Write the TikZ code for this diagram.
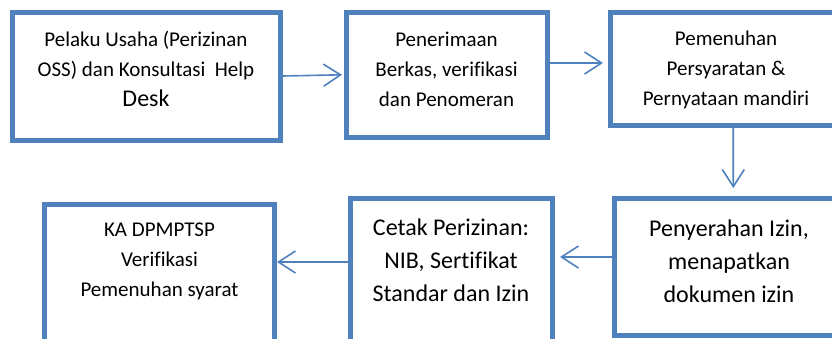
\documentclass[tikz,border=0pt]{standalone}
\usepackage{fontspec}
\setmainfont[Ligatures=NoCommon]{Carlito}
\usetikzlibrary{arrows.meta,positioning}
\definecolor{ossblue}{RGB}{79,129,189}

\begin{document}
\begin{tikzpicture}[x=1pt,y=-1pt,
  box/.style={draw=ossblue,line width=5pt,inner sep=0pt},
  txt/.style={align=center,inner sep=0pt,font=\fontsize{21}{30}\selectfont},
  bigtxt/.style={align=center,inner sep=0pt,font=\fontsize{24}{33}\selectfont},
  arr/.style={draw=ossblue,line width=1.6pt,
    -{Straight Barb[length=17pt,width=22pt,line width=1.6pt]}}]
  \useasboundingbox (0,0) rectangle (832,338);
  % top row
  \node[box,minimum width=268pt,minimum height=128pt]   (b1) at (146.5,76)    {};
  \node[box,minimum width=201pt,minimum height=125.5pt] (b2) at (447,74.75)   {};
  \node[box,minimum width=231.5pt,minimum height=113.5pt] (b3) at (726.25,68.75) {};
  % bottom row
  \node[box,minimum width=229pt,minimum height=136.5pt] (b4) at (729,266.75)  {};
  \node[box,minimum width=202pt,minimum height=146.5pt] (b5) at (451.5,271.75) {};
  \node[box,minimum width=230pt,minimum height=140.5pt] (b6) at (159.5,274.75) {};

  \node[txt] (t1) at (146,69) {Pelaku Usaha (Perizinan\\OSS) dan Konsultasi\ \ Help\\{\fontsize{24}{30}\selectfont Desk}};
  \node[txt] (t2) at (446.5,69) {Penerimaan\\Berkas, verifikasi\\dan Penomeran};
  \node[txt] (t3) at (726,70) {Pemenuhan\\Persyaratan \&\\Pernyataan mandiri};
  \node[bigtxt] (t4) at (729,261) {Penyerahan Izin,\\menapatkan\\dokumen izin};
  \node[bigtxt] (t5) at (451,260) {Cetak Perizinan:\\NIB, Sertifikat\\Standar dan Izin};
  \node[txt] (t6) at (159.5,261) {KA DPMPTSP\\Verifikasi\\Pemenuhan syarat};

  \draw[arr,shorten >=2pt] (b1.east) -- (b2.west);
  \draw[arr,shorten >=5pt] ([yshift=11.75pt]b2.east) -- ([yshift=5.75pt]b3.west);
  \draw[arr,shorten >=8pt] ([xshift=7pt]b3.south) -- ([xshift=4.3pt]b4.north);
  \draw[arr,shorten >=5pt] ([yshift=9.75pt]b4.west) -- ([yshift=14.75pt]b5.east);
  \draw[arr] ([yshift=9.75pt]b5.west) -- ([yshift=12.75pt]b6.east);
\end{tikzpicture}
\end{document}
